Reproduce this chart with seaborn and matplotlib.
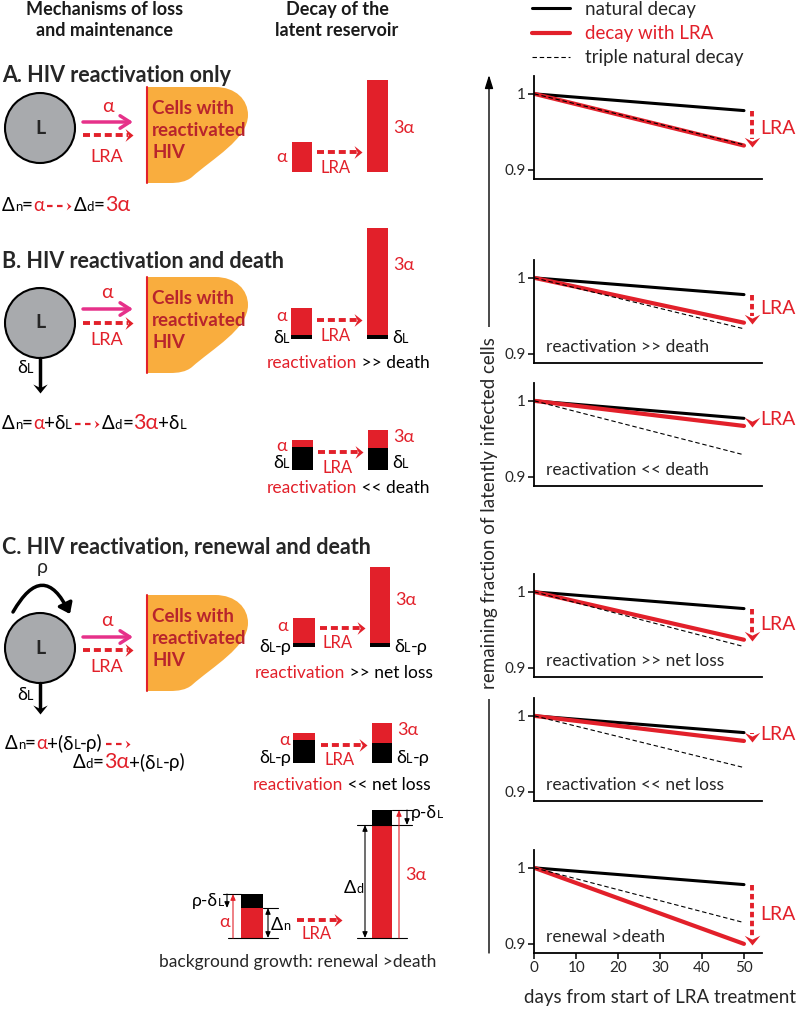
import numpy as np
import pandas as pd
import matplotlib
matplotlib.use("Agg")
import matplotlib.pyplot as plt
import seaborn as sns
from matplotlib.patches import Circle, PathPatch, Rectangle, FancyArrowPatch
from matplotlib.path import Path

sns.set_style("white")
plt.rcParams['font.family'] = ['Lato', 'Open Sans', 'DejaVu Sans']

RED = "#e2202a"
DARKRED = "#b8242c"
PINK = "#e6318a"
ORANGE = "#f9ad3e"
GREY = "#a8aaad"

# values (straight lines from day 0 to day 50)
days = [0, 50]
panels = ["A", "B1", "B2", "C1", "C2", "C3"]
panel_notes = ["", "reactivation >> death", "reactivation << death",
               "reactivation >> net loss", "reactivation << net loss", "renewal >death"]
natural_end = [0.978, 0.978, 0.977, 0.978, 0.978, 0.978]
lra_end = [0.932, 0.941, 0.967, 0.937, 0.967, 0.900]
triple_end = [0.933, 0.933, 0.929, 0.928, 0.932, 0.928]
series_names = ["natural decay", "decay with LRA", "triple natural decay"]
y_ticks = [0.9, 1.0]
y_ticklabels = ["0.9", "1"]
x_ticks = [0, 10, 20, 30, 40, 50]

W, H = 800, 1009
fig = plt.figure(figsize=(W / 100, H / 100), dpi=100)
ax0 = fig.add_axes([0, 0, 1, 1])
ax0.set_xlim(0, W)
ax0.set_ylim(H, 0)
ax0.axis("off")
renderer = fig.canvas.get_renderer()

RIGHT_HEAD = [(-1, 0.8), (0, 0), (-1, -0.8), (-0.6, 0), (-1, 0.8)]
DOWN_HEAD = [(0.8, 1), (0, 0), (-0.8, 1), (0, 0.6), (0.8, 1)]


def lra_arrow(x0, x1, y, lw=2.8, ms=11.5):
    ax0.plot([x0, x1 - 5], [y, y], color=RED, lw=lw, ls=(0, (1.8, 1.0)),
             solid_capstyle="butt", dash_capstyle="butt")
    ax0.plot([x1], [y], marker=RIGHT_HEAD, ms=ms, color=RED, mew=0)


def alpha_arrow(x0, x1, y):
    ax0.annotate("", xy=(x1, y), xytext=(x0, y),
                 arrowprops=dict(arrowstyle="->,head_length=0.7,head_width=0.45",
                                 color=PINK, lw=2.5, shrinkA=0, shrinkB=0))


def down_arrow(x, y0, y1):
    ax0.plot([x, x], [y0, y1 - 5], color="black", lw=2.5)
    ax0.plot([x], [y1], marker=DOWN_HEAD, ms=13, color="black", mew=0)


def rich(x, y, parts, fs=13, ha="left"):
    # parts: (text, colour, scale); "->" draws the small dashed red arrow
    items = []
    for txt, col, sc in parts:
        if txt == "->":
            items.append(("->", None, 30))
            continue
        t = ax0.text(0, y, txt, color=col, fontsize=fs * sc, va="baseline", ha="left")
        items.append((txt, t, t.get_window_extent(renderer).width))
    total = sum(w for _, _, w in items)
    if ha == "center":
        x -= total / 2
    elif ha == "right":
        x -= total
    for txt, t, w in items:
        if txt == "->":
            ax0.plot([x + 3, x + w - 8], [y - 5, y - 5], color=RED, lw=1.6,
                     ls=(0, (2.5, 2)), solid_capstyle="butt")
            ax0.plot([x + w - 3], [y - 5], marker=RIGHT_HEAD, ms=7, color=RED, mew=0)
        else:
            t.set_x(x)
        x += w


def blob(top):
    verts = [(147, top), (215, top), (236, top), (248, top + 13), (248, top + 28),
             (248, top + 52), (212, top + 72), (192, top + 90),
             (186, top + 95), (178, top + 96), (170, top + 96), (147, top + 96),
             (147, top)]
    codes = [Path.MOVETO, Path.LINETO, Path.CURVE4, Path.CURVE4, Path.CURVE4,
             Path.CURVE4, Path.CURVE4, Path.CURVE4, Path.CURVE4, Path.CURVE4,
             Path.CURVE4, Path.LINETO, Path.CLOSEPOLY]
    ax0.add_patch(PathPatch(Path(verts, codes), fc=ORANGE, ec="none"))
    ax0.plot([147, 147], [top, top + 96], color=RED, lw=1.5)
    for k, line in enumerate(["Cells with", "reactivated", "HIV"]):
        ax0.text(152, top + 22 + 21.5 * k, line, color=DARKRED, fontsize=13.5,
                 fontweight="bold", va="center", ha="left")


def cell(cy):
    ax0.add_patch(Circle((40, cy), 35, fc=GREY, ec="black", lw=1.5))
    ax0.text(40, cy, "L", fontsize=14, fontweight="bold", ha="center", va="center")


def bar(x0, x1, y_top, y_mid, y_bot):
    ax0.add_patch(Rectangle((x0, y_top), x1 - x0, y_mid - y_top, fc=RED, ec="none"))
    ax0.add_patch(Rectangle((x0, y_mid), x1 - x0, y_bot - y_mid, fc="black", ec="none"))


# column headers
ax0.text(105, 20, "Mechanisms of loss\nand maintenance", fontsize=13, fontweight="bold",
         ha="center", va="center", linespacing=1.35, color="#1a1a1a")
ax0.text(337, 20, "Decay of the\nlatent reservoir", fontsize=13, fontweight="bold",
         ha="center", va="center", linespacing=1.35, color="#1a1a1a")

# section A
ax0.text(2, 75, "A. HIV reactivation only", fontsize=15.5, fontweight="bold", va="center")
cell(128)
alpha_arrow(83, 133, 122)
lra_arrow(83, 133, 135)
ax0.text(108, 107, "α", color=RED, fontsize=14, ha="center", va="center")
ax0.text(107, 157, "LRA", color=RED, fontsize=13, ha="center", va="center")
blob(87)
rich(2, 211, [("Δ", "black", 1), ("n", "black", 0.7), ("=", "black", 1), ("α", RED, 1),
              ("->", None, 1), ("Δ", "black", 1), ("d", "black", 0.7), ("=", "black", 1),
              ("3α", RED, 1.15)], fs=13.5)
bar(292, 312, 142, 172, 172)
bar(367, 388, 80, 172, 172)
ax0.text(287, 157, "α", color=RED, fontsize=13, ha="right", va="center")
ax0.text(393, 128, "3α", color=RED, fontsize=13, ha="left", va="center")
lra_arrow(317, 362, 152)
ax0.text(336, 168, "LRA", color=RED, fontsize=12, ha="center", va="center")

# section B
ax0.text(2, 262, "B. HIV reactivation and death", fontsize=15.5, fontweight="bold", va="center")
cell(323)
alpha_arrow(83, 133, 309)
lra_arrow(83, 133, 323)
ax0.text(107, 293, "α", color=RED, fontsize=14, ha="center", va="center")
ax0.text(107, 340, "LRA", color=RED, fontsize=13, ha="center", va="center")
blob(277)
down_arrow(40, 358, 393)
rich(17, 373, [("δ", "black", 1), ("L", "black", 0.7)])
rich(2, 429, [("Δ", "black", 1), ("n", "black", 0.7), ("=", "black", 1), ("α", RED, 1),
              ("+δ", "black", 1), ("L", "black", 0.7), ("->", None, 1),
              ("Δ", "black", 1), ("d", "black", 0.7), ("=", "black", 1), ("3α", RED, 1.15),
              ("+δ", "black", 1), ("L", "black", 0.7)], fs=13.5)
# B: reactivation >> death
bar(291, 312, 308, 335, 339)
bar(367, 388, 228, 335, 339)
ax0.text(287, 316, "α", color=RED, fontsize=13, ha="right", va="center")
rich(273, 343, [("δ", "black", 1), ("L", "black", 0.7)])
ax0.text(393, 265, "3α", color=RED, fontsize=13, ha="left", va="center")
rich(392, 343, [("δ", "black", 1), ("L", "black", 0.7)])
lra_arrow(317, 362, 320)
ax0.text(336, 336, "LRA", color=RED, fontsize=12, ha="center", va="center")
rich(267, 368, [("reactivation", RED, 1), (" >> death", "black", 1)], fs=12.5)
# B: reactivation << death
bar(292, 313, 440, 447, 470)
bar(368, 388, 430, 448, 470)
ax0.text(287, 446, "α", color=RED, fontsize=13, ha="right", va="center")
rich(273, 468, [("δ", "black", 1), ("L", "black", 0.7)])
ax0.text(393, 437, "3α", color=RED, fontsize=13, ha="left", va="center")
rich(392, 468, [("δ", "black", 1), ("L", "black", 0.7)])
lra_arrow(318, 363, 452)
ax0.text(338, 468, "LRA", color=RED, fontsize=12, ha="center", va="center")
rich(267, 493, [("reactivation", RED, 1), (" << death", "black", 1)], fs=12.5)

# section C
ax0.text(2, 547, "C. HIV reactivation, renewal and death", fontsize=15.5, fontweight="bold",
         va="center")
cell(648)
ax0.text(42, 568, "ρ", fontsize=14, ha="center", va="center")
ax0.add_patch(FancyArrowPatch((13, 612), (70, 614), connectionstyle="arc3,rad=-0.95",
                              arrowstyle="-|>,head_length=6,head_width=4.5",
                              color="black", lw=2.5, shrinkA=0, shrinkB=0))
alpha_arrow(83, 133, 637)
lra_arrow(83, 133, 650)
ax0.text(107, 620, "α", color=RED, fontsize=14, ha="center", va="center")
ax0.text(107, 667, "LRA", color=RED, fontsize=13, ha="center", va="center")
blob(595)
down_arrow(40, 683, 714)
rich(17, 700, [("δ", "black", 1), ("L", "black", 0.7)])
rich(5, 749, [("Δ", "black", 1), ("n", "black", 0.7), ("=", "black", 1), ("α", RED, 1),
              ("+(δ", "black", 1), ("L", "black", 0.7), ("-ρ)", "black", 1), ("->", None, 1)],
     fs=13.5)
rich(73, 768, [("Δ", "black", 1), ("d", "black", 0.7), ("=", "black", 1), ("3α", RED, 1.15),
               ("+(δ", "black", 1), ("L", "black", 0.7), ("-ρ)", "black", 1)], fs=13.5)
# C: reactivation >> net loss
bar(293, 315, 618, 643, 647)
bar(370, 390, 567, 643, 647)
ax0.text(288, 626, "α", color=RED, fontsize=13, ha="right", va="center")
rich(292, 652, [("δ", "black", 1), ("L", "black", 0.7), ("-ρ", "black", 1)], ha="right")
ax0.text(395, 600, "3α", color=RED, fontsize=13, ha="left", va="center")
rich(394, 652, [("δ", "black", 1), ("L", "black", 0.7), ("-ρ", "black", 1)])
lra_arrow(320, 365, 628)
ax0.text(338, 643, "LRA", color=RED, fontsize=12, ha="center", va="center")
rich(255, 678, [("reactivation", RED, 1), (" >> net loss", "black", 1)], fs=12.5)
# C: reactivation << net loss
bar(293, 315, 733, 740, 763)
bar(372, 392, 723, 743, 763)
ax0.text(290, 740, "α", color=RED, fontsize=13, ha="right", va="center")
rich(292, 763, [("δ", "black", 1), ("L", "black", 0.7), ("-ρ", "black", 1)], ha="right")
ax0.text(397, 730, "3α", color=RED, fontsize=13, ha="left", va="center")
rich(396, 763, [("δ", "black", 1), ("L", "black", 0.7), ("-ρ", "black", 1)])
lra_arrow(321, 367, 745)
ax0.text(340, 760, "LRA", color=RED, fontsize=12, ha="center", va="center")
rich(253, 790, [("reactivation", RED, 1), (" << net loss", "black", 1)], fs=12.5)

# C: background growth bars
bar(241, 263, 908, 938, 938)
ax0.add_patch(Rectangle((241, 894), 22, 14, fc="black", ec="none"))
bar(372, 392, 825, 938, 938)
ax0.add_patch(Rectangle((372, 810), 20, 15, fc="black", ec="none"))
thin = dict(color="black", lw=0.8)
for xs, y in [((223, 241), 894), ((263, 278), 908), ((228, 278), 938),
              ((392, 412), 810), ((357, 412), 825), ((357, 407), 938)]:
    ax0.plot(xs, [y, y], **thin)
for x, y0, y1, col, style in [(233, 938, 894, RED, "-|>"), (227, 894, 908, "black", "-|>"),
                              (268, 908, 938, "black", "<|-|>"), (365, 825, 938, "black", "<|-|>"),
                              (399, 938, 810, RED, "-|>"), (407, 810, 825, "black", "-|>")]:
    ax0.annotate("", xy=(x, y1), xytext=(x, y0),
                 arrowprops=dict(arrowstyle=style + ",head_length=0.35,head_width=0.15",
                                 color=col, lw=0.8, shrinkA=0, shrinkB=0))
rich(224, 906, [("ρ-δ", "black", 1), ("L", "black", 0.7)], fs=12.5, ha="right")
ax0.text(225, 922, "α", color=RED, fontsize=13, ha="center", va="center")
rich(271, 930, [("Δ", "black", 1), ("n", "black", 0.7)])
lra_arrow(297, 342, 920)
ax0.text(317, 934, "LRA", color=RED, fontsize=12, ha="center", va="center")
rich(344, 893, [("Δ", "black", 1), ("d", "black", 0.7)])
ax0.text(405, 875, "3α", color=RED, fontsize=13, ha="left", va="center")
rich(411, 818, [("ρ-δ", "black", 1), ("L", "black", 0.7)], fs=12.5)
ax0.text(298, 962, "background growth: renewal >death", fontsize=12.5, ha="center", va="center")

# shared y axis label with arrow
ax0.annotate("", xy=(489, 75), xytext=(489, 953),
             arrowprops=dict(arrowstyle="-|>,head_length=0.8,head_width=0.25",
                             color="black", lw=1.0, shrinkA=0, shrinkB=0))
ax0.text(489, 513, "remaining fraction of latently infected cells", fontsize=13.5,
         rotation=90, ha="center", va="center",
         bbox=dict(fc="white", ec="none", pad=7))
ax0.text(660, 997, "days from start of LRA treatment", fontsize=13.5, ha="center", va="center")

# six line panels
axis_bottom = [179, 363, 486, 677, 801, 953]
palette = {"natural decay": "black", "decay with LRA": RED, "triple natural decay": "black"}
sizes = {"natural decay": 2.2, "decay with LRA": 3.0, "triple natural decay": 0.8}
dashes = {"natural decay": "", "decay with LRA": "", "triple natural decay": (4, 2.5)}

for i, name in enumerate(panels):
    b = axis_bottom[i]
    ax = fig.add_axes([534 / W, 1 - b / H, 228 / W, 103 / H])
    ax.set_facecolor("none")
    df = pd.DataFrame({
        "day": days * 3,
        "fraction": [1.0, natural_end[i], 1.0, lra_end[i], 1.0, triple_end[i]],
        "series": np.repeat(series_names, len(days)),
    })
    sns.lineplot(data=df, x="day", y="fraction", hue="series", style="series", size="series",
                 palette=palette, sizes=sizes, dashes=dashes, hue_order=series_names,
                 ax=ax, legend=(i == 0))
    ax.set_xlim(-0.1, 54.3)
    ax.set_ylim(0.888, 1.0235)
    ax.set_yticks(y_ticks)
    ax.set_yticklabels(y_ticklabels)
    ax.set_xlabel("")
    ax.set_ylabel("")
    sns.despine(ax=ax)
    for sp in ["left", "bottom"]:
        ax.spines[sp].set_linewidth(1.3)
        ax.spines[sp].set_color("black")
    ax.tick_params(axis="y", length=4, width=1.3, labelsize=11, pad=2, left=True)
    if i == len(panels) - 1:
        ax.set_xticks(x_ticks)
        ax.tick_params(axis="x", length=4, width=1.3, labelsize=11, pad=2, bottom=True)
    else:
        ax.set_xticks([])
    if panel_notes[i]:
        ax.text(2.7, 0.9085, panel_notes[i], fontsize=12.5, va="center", ha="left")

    # LRA effect arrow
    nat, lra = natural_end[i], lra_end[i]
    ax.plot([51.8, 51.8], [nat - 0.001, lra + 0.009], color=RED, lw=2.8,
            ls=(0, (1.4, 0.9)), clip_on=False)
    ax.plot([51.8], [lra - 0.002], marker=DOWN_HEAD, ms=14, color=RED, mew=0, clip_on=False)
    ax.text(53.8, (nat + lra) / 2 + (0.003 if nat - lra < 0.02 else 0), "LRA",
            color=RED, fontsize=14, ha="left", va="center", clip_on=False)

    if i == 0:
        sns.move_legend(ax, "upper left", bbox_to_anchor=(532 / W, 1 - 1 / H),
                        bbox_transform=fig.transFigure, frameon=False, title=None,
                        fontsize=13.5, handlelength=2.0, handletextpad=0.85,
                        labelspacing=0.38, borderpad=0, borderaxespad=0)
        ax.get_legend().get_texts()[1].set_color(RED)

fig.savefig("out.png", dpi=100)
